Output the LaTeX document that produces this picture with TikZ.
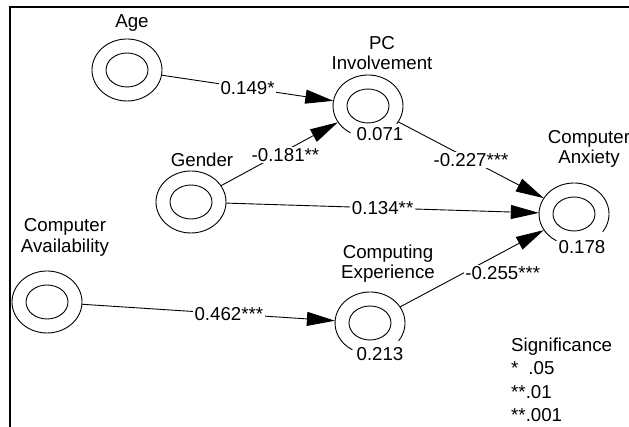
\documentclass[tikz,border=0pt]{standalone}
\usepackage{fontspec}
\setmainfont{Liberation Sans}
\usetikzlibrary{positioning, shapes.geometric, arrows.meta}

\begin{document}
\begin{tikzpicture}[
    x=1pt, y=1pt,
    font=\fontsize{18.7}{20.5}\selectfont,
    exo/.style={ellipse, draw=black, line width=0.9pt, minimum width=70pt, minimum height=62pt, inner sep=0pt},
    endo/.style={ellipse, draw=none, minimum width=70pt, minimum height=62pt, inner sep=0pt},
    core/.style={ellipse, draw=black, line width=0.9pt, minimum width=42pt, minimum height=34pt, inner sep=0pt},
    ring/.style={draw=black, line width=0.9pt},
    vlabel/.style={align=center, inner sep=0pt, text depth=0pt},
    rsq/.style={fill=white, inner sep=1pt},
    link/.style={draw=black, line width=0.9pt, -{Triangle[length=28pt, width=14pt]}},
    coef/.style={fill=white, inner sep=1.5pt},
    boxline/.style={draw=black, line width=2pt}
]
\useasboundingbox (0,0) rectangle (629,427);

% --- Frame (top and left edge only) ---
\draw[boxline] (10,0) |- (629,419.7);

% --- Exogenous constructs ---
\node[exo] (age)    at (127,357) {};
\node[exo] (gender) at (191,225) {};
\node[exo] (avail)  at (47,125)  {};
\node[core] at (age)    {};
\node[core] at (gender) {};
\node[core] at (avail)  {};

% --- Endogenous constructs (outer ring left open for R^2) ---
\node[endo] (pc)  at (368,321) {};
\node[endo] (anx) at (574,213) {};
\node[endo] (exp) at (370,104) {};
\foreach \v in {pc, anx, exp} {
    \node[core] at (\v) {};
    \draw[ring] (\v.center) ++(-35:35pt and 31pt)
        arc[start angle=-35, end angle=240, x radius=35pt, y radius=31pt];
}

% --- Construct names ---
\node[vlabel, above=11pt of age, xshift=5pt]     {Age};
\node[vlabel, above=4pt of gender, xshift=11pt]  {Gender};
\node[vlabel, above=18pt of avail, xshift=18pt]  {Computer\\Availability};
\node[vlabel, above=5pt of pc, xshift=14pt]      {PC\\Involvement};
\node[vlabel, above=19pt of anx, xshift=15pt]    {Computer\\Anxiety};
\node[vlabel, above=13pt of exp, xshift=18pt]    {Computing\\Experience};

% --- Paths with coefficients ---
\draw[link] (age)    -- node[coef] {0.149*} (pc);
\draw[link] (gender) -- node[coef, pos=0.55, yshift=-4pt] {-0.181**} (pc);
\draw[link] (gender) -- node[coef] {0.134**} (anx);
\draw[link] (pc)     -- node[coef] {-0.227***} (anx);
\draw[link] (avail)  -- node[coef, pos=0.58] {0.462***} (exp);
\draw[link] (exp)    -- node[coef, pos=0.44, anchor=west] {-0.255***} (anx);

% --- Explained variance ---
\node[rsq] (pcr2)  at ([shift={(12,-28)}]pc.center)  {0.071};
\node[rsq] (anxr2) at ([shift={(8,-33)}]anx.center)  {0.178};
\node[rsq] (expr2) at ([shift={(10,-31)}]exp.center) {0.213};

% --- Legend ---
\node[vlabel, align=left, anchor=north west, font=\fontsize{18.7}{23.5}\selectfont]
    (sig) at (511,89.5) {Significance\\*\hspace{10pt}.05\\**.01\\**.001};

\end{tikzpicture}
\end{document}
